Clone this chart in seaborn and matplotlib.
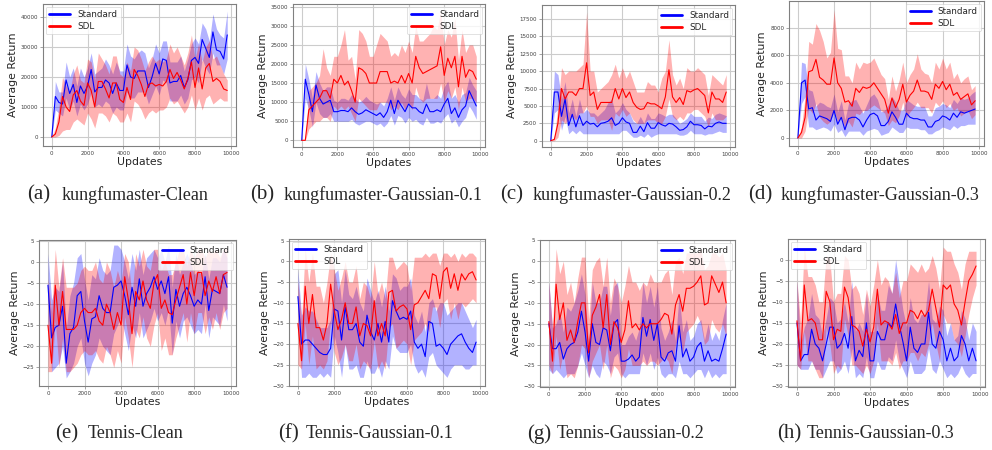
import numpy as np
import matplotlib
matplotlib.use("Agg")
import matplotlib.pyplot as plt
from matplotlib.ticker import MultipleLocator
import seaborn as sns

# x axis: one evaluation every 200 updates
step = 200

# --- kungfumaster (values in thousands) ---
a_std = [0, 13.5, 11.5, 11, 19, 14.5, 17.5, 11.5, 17, 14.5, 17, 22.5, 15, 16.5, 16.5, 19, 18, 14.5, 18, 15.5,
         15.5, 24, 20, 19.5, 22, 22, 22, 16.5, 20, 24.5, 21, 26, 25.5, 18, 18.5, 18.5, 20.5, 16.5, 19, 25.5,
         26.5, 24.5, 32.5, 29.5, 26.5, 35, 29, 28.5, 26, 34]
a_std_lo = [0, 9, 8, 7, 13, 9, 12, 7, 11, 9, 11, 15, 10, 11, 10, 12, 11, 8, 10, 9, 9, 15, 13, 13, 15, 15, 15, 11,
            14, 17, 14, 19, 18, 12, 12, 12, 14, 11, 13, 19, 20, 18, 26, 23, 21, 28, 24, 24, 21, 26]
a_std_hi = [0, 18.5, 15, 15, 25, 20, 23, 17, 23, 20, 23, 28, 21, 22, 23, 26, 24, 21, 25, 22, 22, 31, 27, 26, 28,
            29, 28, 23, 26, 31, 28, 32, 32, 25, 25, 25, 27, 22, 26, 31, 33, 31, 38, 36, 32, 41, 36, 34, 33, 42]
a_sdl = [0, 1, 5, 13.5, 10, 8.5, 14, 15.5, 12, 10.5, 18, 15.5, 10, 18.5, 18.5, 16, 13, 18, 18, 12.5, 11.5, 16.5,
         12.5, 22.5, 20.5, 17.5, 13.5, 17.5, 18, 17, 17.5, 17, 18.5, 22.5, 19.5, 21.5, 19, 16, 19.5, 25, 16.5,
         23, 16, 23, 24.5, 18.5, 19.5, 18.5, 16, 15.5]
a_sdl_lo = [0, 0, 0.5, 2, 2.5, 2.5, 5, 6, 5, 4, 8, 6, 3, 8, 8, 7, 5, 8, 7, 5, 5, 8, 5, 12, 11, 9, 6, 8, 9, 8, 9,
            9, 10, 13, 11, 12, 10, 8, 10, 14, 9, 13, 9, 13, 14, 11, 12, 13, 12, 12]
a_sdl_hi = [0, 3, 10, 20, 17, 15, 21, 24, 19, 18, 26, 25, 19, 28, 26, 24, 21, 27, 27, 21, 20, 25, 22, 30, 29, 26,
            22, 25, 27, 25, 26, 25, 26, 31, 28, 30, 27, 24, 28, 34, 26, 31, 25, 30, 32, 26, 27, 24, 21, 19]

b_std = [0, 16, 12, 7.5, 14.5, 11, 9.5, 10, 10.5, 7.5, 7.5, 7.8, 7.8, 7.5, 8.5, 7.5, 6.8, 7.2, 8, 7.5, 7, 6.5,
         7.2, 6, 7.5, 10.5, 7, 10.5, 9, 7.5, 9.5, 8.5, 8.5, 7.5, 7, 9.5, 7.5, 7.5, 8, 7.5, 9.5, 11, 7, 8.5, 6,
         8, 9, 13, 11, 9]
b_std_lo = [0, 11, 8, 3.5, 10, 7, 6, 6, 7, 5, 5, 5, 5, 5, 5.5, 4.5, 4, 4.5, 5, 5, 4.5, 4, 4.5, 3.5, 4.5, 6.5, 4,
            6.5, 6, 4.5, 6, 5, 5.5, 4.5, 4, 6, 4.5, 4.5, 5, 4.5, 6, 7, 4.5, 5.5, 3.5, 5, 6, 9, 7.5, 5.5]
b_std_hi = [0, 20, 16, 11, 18, 15, 13, 14, 14, 10.5, 10, 11, 11, 10.5, 12, 11, 10, 10.5, 11.5, 10.5, 10, 9.5, 10,
            9, 11, 14, 10.5, 14, 12, 11, 13.5, 12, 12, 11, 10.5, 15, 11, 11, 12, 11, 14, 15.5, 11, 12, 10, 12,
            12.5, 16.5, 14.5, 13]
b_sdl = [0, 0, 8, 9, 10, 11, 13, 13, 11, 16, 15, 17, 14.5, 15.5, 13, 10, 19, 18.5, 17.5, 15, 15, 15, 18, 18, 18,
         15, 15.5, 15, 17, 15, 17.5, 15, 22, 19, 17.5, 18, 18.5, 19, 19.5, 24.5, 17, 21.5, 19, 22, 14, 22, 16.5,
         18.5, 18, 16]
b_sdl_lo = [0, 0, 3, 4, 5, 5, 6, 6, 5, 9, 8, 9, 8, 9, 7, 5, 11, 10, 9, 8, 8, 8, 10, 10, 10, 8, 9, 8, 10, 8, 10, 8,
            14, 11, 10, 11, 11, 11, 11, 15, 10, 13, 11, 14, 8, 14, 10, 11, 11, 10]
b_sdl_hi = [0, 0, 13, 14, 15, 17, 24, 19, 17, 22, 22, 25, 29, 21, 22, 16, 29, 28, 26, 22, 22, 25, 28, 27, 26, 22,
            23, 22, 25, 23, 26, 23, 30, 26, 26, 27, 28, 30, 29, 34, 25, 29, 27, 32, 21, 29, 23, 25, 25, 22]

c_std = [0, 7, 7, 3.5, 6, 2.2, 3.8, 2, 3.6, 2.2, 2.8, 2.4, 2.5, 2, 2.5, 2.6, 2.8, 3.3, 2.2, 2.5, 3.3, 2.7, 2.5,
         1.2, 1.2, 2.1, 1.3, 2.6, 1.8, 1.8, 2.6, 2.3, 2.1, 2.5, 2.4, 2, 1.5, 1.6, 2, 2.8, 2.3, 2.3, 2.2, 1.7, 2.1,
         2, 2.5, 2.7, 2.5, 2.5]
c_std_lo = [0, 4, 4.5, 1.5, 3.5, 1, 1.5, 1, 1.5, 1, 1, 1, 1, 1, 1, 1, 1, 1, 1, 1, 1.5, 1.5, 1, 0.5, 0.5, 0.8, 0.5,
            1, 0.5, 0.8, 1, 1, 1, 1, 1, 1, 0.8, 0.8, 1, 1.5, 1, 1, 1, 0.8, 1, 1, 1.2, 1.4, 1.2, 1.2]
c_std_hi = [0, 10, 9.5, 6, 8.5, 4, 6, 3.5, 6, 4, 4.5, 4, 4, 3.5, 4, 4.5, 5.5, 6, 4, 4.5, 5.5, 4.5, 4, 2.8, 2.5,
            3.5, 2.5, 4, 3.2, 3.2, 4, 3.8, 3.5, 3.8, 3.8, 3.2, 2.5, 2.8, 3.2, 4, 3.5, 3.5, 3.5, 2.8, 3.4, 3.2, 3.8,
            4, 3.8, 3.6]
c_sdl = [0, 0.2, 2.5, 7.5, 6, 7, 7, 6.5, 7.5, 7.5, 11.2, 6.5, 7, 4.5, 5.5, 5.5, 5.5, 5.5, 7.5, 6, 7.5, 6.2, 7,
         5.5, 4.8, 4.5, 4.6, 5.5, 5.3, 5.3, 5, 4.6, 6.3, 10.2, 6.3, 5.5, 6.2, 5.2, 7.2, 7, 7.3, 7.5, 7, 6.5, 4,
         7, 6, 6, 5.5, 7]
c_sdl_lo = [0, 0, 0.5, 3, 2.5, 3, 3.5, 3, 4, 4, 5, 3.5, 3.5, 2.5, 3, 3, 3, 1.5, 4, 3.5, 4.5, 3.5, 4, 3, 2.5, 2.5,
            2.5, 3, 3, 3, 2.5, 2.5, 3.5, 6, 3.5, 3, 3.5, 3, 4, 4, 4.5, 4.5, 4, 3.5, 2, 4, 3, 3, 3, 3.5]
c_sdl_hi = [0, 0.5, 5, 10.5, 9.5, 10, 10, 10, 10.5, 11, 18.5, 10, 10, 7, 7.5, 8, 8.5, 9.5, 11, 9, 10.5, 9, 10,
            8.5, 7, 7, 7, 8.5, 8, 8, 7, 9, 10, 14.5, 9.5, 8, 9, 7.5, 10.5, 10, 10, 10.5, 10, 9.5, 6.5, 9.5, 9,
            8.5, 8, 9.5]

d_std = [0, 4, 4.2, 2.1, 2.2, 1.3, 1.6, 1.5, 1.4, 1.2, 2, 1, 1.5, 0.6, 1.4, 1.5, 1.5, 1.3, 0.8, 1.3, 1.7, 1.8,
         1.6, 0.9, 0.9, 1.2, 1.9, 1.5, 1, 1, 1.8, 1.5, 1.4, 1.4, 1.3, 1.3, 0.8, 0.8, 1.2, 1.3, 1.6, 1.5, 1.3,
         1.8, 1.5, 1.9, 1.8, 1.9, 2, 2.1]
d_std_lo = [0, 2.5, 3, 0.8, 0.8, 0.6, 0.7, 0.8, 0.7, 0.5, 1, 0.4, 0.6, 0.1, 0.5, 0.5, 0.5, 0.5, 0.2, 0.5, 0.6,
            0.7, 0.6, 0.2, 0.3, 0.4, 0.8, 0.6, 0.4, 0.4, 0.8, 0.7, 0.7, 0.7, 0.6, 0.6, 0.3, 0.3, 0.5, 0.6, 0.8,
            0.7, 0.6, 0.9, 0.7, 0.9, 0.9, 1, 1, 1]
d_std_hi = [0, 5.5, 5.4, 3.5, 3.4, 2.3, 2.6, 2.5, 2.3, 2.2, 3.2, 1.9, 2.7, 1.3, 2.5, 2.7, 2.8, 2.3, 1.8, 2.4, 3,
            3.2, 2.8, 1.9, 2, 2.4, 3, 2.6, 2, 2, 2.8, 2.6, 2.4, 2.3, 2.3, 2.3, 1.6, 1.6, 2.2, 2.3, 2.5, 2.4, 2.2,
            2.8, 2.5, 2.9, 2.8, 2.9, 3.2, 3.4]
d_sdl = [0, 0.4, 1.5, 4.8, 4.9, 5.7, 4.4, 4.2, 3.9, 3.9, 5.8, 4, 3.6, 2.6, 2.7, 2.3, 3.6, 3.3, 3.7, 3.6, 3.7, 4,
         3.6, 3.2, 2.8, 1.8, 2.9, 2.2, 2.8, 3.9, 2.6, 3.1, 3.4, 4.2, 3.4, 3.4, 3.3, 2.8, 3.9, 3.6, 4.1, 3.5, 3.9,
         3.1, 3.3, 2.8, 3, 3.2, 2.4, 2.7]
d_sdl_lo = [0, 0, 0.5, 2.2, 1.8, 2.5, 1.5, 1.2, 1, 1.2, 2, 1.2, 1.5, 0.8, 1.2, 0.8, 1.8, 1.7, 2, 2, 2.2, 2.4, 2.2,
            2, 1.8, 0.9, 1.3, 1.1, 1.6, 2.6, 1.5, 1.9, 2.2, 2.6, 2.2, 2.2, 2.2, 1.8, 2.6, 2.3, 2.7, 2.2, 2.5, 2,
            2.2, 1.6, 1.8, 2, 1.4, 1.7]
d_sdl_hi = [0, 0.8, 3, 7, 6.8, 8.3, 7.8, 7, 5.8, 6.2, 9.3, 6.5, 6.4, 4.5, 4.5, 4, 5.5, 5, 5.5, 5.4, 5.5, 5.8, 5.2,
            4.6, 4.3, 2.8, 4.5, 3.4, 4.2, 5.5, 4, 4.6, 5, 6.1, 5, 4.7, 4.6, 4, 5.5, 5, 5.8, 5, 5.5, 4.3, 4.7, 4,
            4.3, 4.5, 3.5, 3.8]

# --- Tennis ---
e_std = [-5.5, -18, -15.5, -15, -10.5, -24, -17, -15.5, -8, -7, -14, -19, -13.5, -13, -8, -11, -12, -12, -6,
         -5.5, -4.5, -8, -12.5, -6, -10.5, -4, -10.5, -7.5, -6, -3.5, -6.5, -4.5, -7.5, -3.5, -14.5, -6.5, -10.5,
         -7.5, -6, -8, -10.5, -9, -10, -3.5, -11.5, -6.5, -7, -7.5, -3, -6]
e_std_lo = [-14, -26, -25, -24, -20, -27.5, -26, -24, -20, -18, -24, -27, -24, -22, -18, -20, -21, -22, -17, -15,
            -13, -17, -21, -15, -18, -12, -18, -16, -14, -11, -14, -12, -15, -11, -22, -14, -18, -14, -13, -15,
            -17, -16, -17, -10, -18, -13, -14, -15, -10, -14]
e_std_hi = [2, -9, -6, -7, 0, -16, -8, -5, 1, 2, -4, -9, -3, -4, 1, -2, -3, -2, 4, 4, 3, 0, -4, 2, -2, 3, -3, 1,
            2, 3, 1, 3, 0, 4, -6, 2, -3, 0, 2, 0, -3, -2, -3, 2, -4, 1, 1, 0, 3, 1]
e_sdl = [-15, -24, -5.5, -15, -7, -16, -16, -16, -15, -12, -11, -12, -12, -11, -14, -15, -10, -12, -16, -12, -15,
         -3.5, -9, -17, -7, -9, -4.5, -9, -11, -5, -3, -11, -9, -12, -12.5, -9, -6, -3, -10, -2.5, -8, -2.5,
         -2.5, -8, -4.5, -7, -3.5, -7.5, -3, -2.5]
e_sdl_lo = [-26, -26, -14, -25, -18, -26, -26, -25, -24, -22, -21, -22, -22, -21, -23, -24, -20, -22, -25, -21,
            -24, -13, -18, -25, -16, -18, -13, -18, -20, -15, -12, -21, -18, -22, -22, -18, -15, -12, -19, -12,
            -17, -12, -12, -17, -13, -16, -12, -16, -12, -11]
e_sdl_hi = [-4, -12, 3, -6, 1, -6, -6, -6, -5, -2, -1, -2, -2, 0, -4, -5, 0, -2, -6, -2, -5, 2, 0, -8, 2, -1, 3,
            -1, -2, 3, 3, -2, 0, -3, -3, 0, 3, 3, -1, 3, 1, 3, 3, 1, 3, 2, 3, 1, 3, 3]

f_std = [-8.5, -20, -19, -19, -20, -21, -22, -22.5, -22.5, -21, -11.5, -12, -19, -11, -16.5, -16.5, -15, -19.5,
         -20.5, -13, -17, -19, -15, -19.5, -14.5, -19.5, -9.5, -12, -14, -13.5, -14, -12, -19.5, -21, -20, -23,
         -14.5, -15, -20.5, -20, -21, -22.5, -20, -19, -18, -17.5, -19.5, -21, -22, -19.5]
f_std_lo = [-15, -28, -28, -27, -28, -28, -27, -28, -27, -28, -18, -22, -28, -20, -26, -26, -25, -28, -28, -24,
            -27, -27, -25, -28, -24, -26, -18, -21, -22, -22, -22, -20, -25, -27, -26, -28, -23, -22, -25, -26,
            -27, -28, -26, -25, -25, -25, -26, -26, -25, -25]
f_std_hi = [-2, -13, -11, -12, -12, -14, -16, -16, -16, -14, -3, -2, -10, -2, -8, -9, -6, -10, -12, -4, -7, -10,
            -7, -11, -6, -12, -3, -4, -7, -6, -6, -4, -13, -15, -12, -17, -10, -9, -12, -10, -10, -13, -12, -11,
            -10, -10, -12, -14, -16, -14]
f_sdl = [-15, -24, -6, -15, -8, -16, -16, -19, -15, -5.5, -12, -16.5, -14, -10, -15, -15, -11, -18, -15, -15.5,
         -18, -9.5, -18, -15, -18, -7.5, -7, -12, -11, -10.5, -11.5, -16.5, -10.5, -10, -8.5, -7, -9, -3, -3.5,
         -9, -2.5, -1.5, -6.5, -3, -7, -3, -4.5, -3, -2.5, -4.5]
f_sdl_lo = [-25, -26, -15, -25, -18, -26, -25, -26, -24, -14, -22, -25, -23, -20, -24, -24, -20, -26, -24, -25,
            -26, -19, -26, -24, -26, -16, -15, -21, -20, -19, -20, -25, -19, -18, -17, -15, -17, -11, -11, -16,
            -10, -9, -14, -10, -14, -10, -11, -10, -9, -10]
f_sdl_hi = [-5, -14, 3, -5, 2, -6, -6, -10, -5, 2, -2, -7, -4, 0, -5, -5, -1, -9, -5, -6, -9, 0, -8, -5, -9, 1, 1,
            -2, -1, 0, -1, -7, 1, 1, 1, 2, 1, 2, 2, -1, 2, 2, 1, 2, 0, 2, 1, 2, 2, 1]

g_std = [-15, -21, -21, -19.5, -23.5, -21, -20, -19.5, -17, -12, -17, -24, -15, -19.5, -20, -16, -16.5, -21.5,
         -15, -14, -24, -24, -23.5, -22.5, -24, -23, -13.5, -18, -14, -19, -15, -23, -24, -22, -21.5, -24, -15.5,
         -23, -21, -24, -23, -20.5, -19.5, -24, -21.5, -24, -23.5, -24, -21, -17.5]
g_std_lo = [-26, -27, -26, -27, -28, -27, -27, -27, -25, -22, -25, -28, -25, -27, -28, -24, -25, -27, -23, -22,
            -27, -28, -27, -27, -27, -27, -22, -25, -22, -26, -23, -27, -28, -27, -27, -28, -24, -27, -27, -28,
            -27, -26, -26, -28, -26, -28, -27, -28, -27, -27]
g_std_hi = [-5, -16, -15, -12, -17, -11, -12, -10, -7, -3, -8, -20, -5, -10, -10, -6, -6, -13, -6, -5, -20, -20,
            -18, -17, -19, -16, -5, -10, -6, -11, -6, -16, -19, -17, -14, -19, -8, -17, -14, -19, -18, -15, -14,
            -19, -15, -19, -17, -19, -14, -10]
g_sdl = [-14.5, -24, -5.5, -14, -10, -19, -16.5, -19.5, -14.5, -10, -10, -22, -13, -11, -8, -16, -8, -20, -14.5,
         -16, -19.5, -16.5, -9.5, -16, -15, -16.5, -15, -16, -15, -15, -15, -14, -12.5, -13, -17.5, -10.5, -8,
         -12, -6.5, -6.5, -6, -5, -3.5, -10.5, -10, -3.5, -5.5, -7.5, -5, -10]
g_sdl_lo = [-25, -27, -18, -26, -22, -28, -27, -28, -25, -20, -21, -28, -24, -22, -20, -26, -20, -28, -25, -26,
            -28, -26, -21, -25, -25, -25, -24, -25, -24, -24, -25, -24, -23, -24, -27, -20, -18, -22, -17, -16,
            -15, -13, -15, -20, -19, -14, -16, -17, -15, -18]
g_sdl_hi = [-5, -16, 3, -3, 0, -8, -5, -10, -4, 1, 1, -14, -2, 0, 1, -6, 1, -10, -4, -6, -10, -6, -1, -5, -5, -7,
            -5, -6, -3, -5, -5, -5, -3, -2, -8, 0, 1, -3, 2, 2, 2, 2, 3, -2, -1, 2, 2, 1, 2, -2]

h_std = [-15, -24, -22.5, -22.5, -16.5, -20, -21, -24, -20, -16, -16, -21, -20, -17.5, -21, -13.5, -24, -21.5,
         -23, -15, -24, -24, -17, -19, -19, -15, -16, -10.5, -15.5, -19.5, -24, -16, -21, -22, -20, -20, -12.5,
         -20, -21, -17, -19, -24, -21, -24, -23, -18, -20, -24, -21, -24]
h_std_lo = [-25, -26, -26, -26, -24, -26, -26, -28, -26, -24, -24, -27, -26, -24, -27, -21, -28, -27, -28, -23,
            -28, -28, -24, -26, -26, -23, -24, -19, -24, -26, -28, -24, -27, -27, -27, -26, -21, -26, -27, -24,
            -26, -28, -27, -28, -27, -25, -27, -28, -27, -27]
h_std_hi = [-5, -20, -16, -14, -8, -13, -14, -18, -14, -9, -10, -15, -14, -10, -15, -5, -17, -15, -17, -8, -17,
            -17, -8, -12, -12, -6, -8, 0, -6, -12, -16, -9, -14, -15, -13, -13, -5, -14, -15, -11, -12, -18, -15,
            -19, -18, -12, -14, -19, -15, -17]
h_sdl = [-14.5, -24, -6, -14.5, -14, -15, -19, -19, -7.5, -10, -19, -16.5, -17, -6.5, -9, -15.5, -16, -17, -20.5,
         -16.5, -19.5, -16, -7, -15.5, -14.5, -15, -16.5, -13, -17.5, -15, -15, -12, -12.5, -14, -12, -13.5, -12,
         -7, -11.5, -16, -6, -7, -6, -10.5, -12, -15.5, -10, -5, -3.5, -1.5]
h_sdl_lo = [-25, -26, -17, -24, -24, -26, -28, -28, -16, -20, -27, -25, -26, -14, -18, -25, -25, -26, -27, -25,
            -27, -24, -15, -24, -24, -24, -25, -22, -26, -24, -24, -22, -22, -24, -22, -23, -20, -15, -20, -24,
            -13, -15, -15, -19, -20, -23, -18, -13, -9, -6]
h_sdl_hi = [-5, -15, 3, -4, -4, -6, -10, -10, 1, 0, -10, -8, -8, 1, 0, -7, -6, -8, -13, -7, -11, -6, 0, -6, -4,
            -5, -8, -3, -9, -5, -5, -1, -2, -3, -1, -3, -2, 1, -2, -7, 3, 2, 2, -1, -3, -7, -1, 2, 2, 2]

letters = ["(a)", "(b)", "(c)", "(d)", "(e)", "(f)", "(g)", "(h)"]
names = ["kungfumaster-Clean", "kungfumaster-Gaussian-0.1", "kungfumaster-Gaussian-0.2",
         "kungfumaster-Gaussian-0.3", "Tennis-Clean", "Tennis-Gaussian-0.1", "Tennis-Gaussian-0.2",
         "Tennis-Gaussian-0.3"]

series = [
    (a_std, a_std_lo, a_std_hi, a_sdl, a_sdl_lo, a_sdl_hi),
    (b_std, b_std_lo, b_std_hi, b_sdl, b_sdl_lo, b_sdl_hi),
    (c_std, c_std_lo, c_std_hi, c_sdl, c_sdl_lo, c_sdl_hi),
    (d_std, d_std_lo, d_std_hi, d_sdl, d_sdl_lo, d_sdl_hi),
    (e_std, e_std_lo, e_std_hi, e_sdl, e_sdl_lo, e_sdl_hi),
    (f_std, f_std_lo, f_std_hi, f_sdl, f_sdl_lo, f_sdl_hi),
    (g_std, g_std_lo, g_std_hi, g_sdl, g_sdl_lo, g_sdl_hi),
    (h_std, h_std_lo, h_std_hi, h_sdl, h_sdl_lo, h_sdl_hi),
]

# layout: axes box in pixels (left, top, right, bottom), y limits, tick step, value scale, legend loc
layout = [
    ((43, 4, 236, 146), (-3000, 44300), 10000, 1000, "upper left"),
    ((293, 4, 485, 147), (-1750, 35700), 5000, 1000, "upper right"),
    ((542, 5, 735, 147), (-900, 19500), 2500, 1000, "upper right"),
    ((789, 1, 984, 146), (-580, 9930), 2000, 1000, "upper right"),
    ((39, 240, 236, 386), (-29.4, 5.2), 5, 1, "upper right"),
    ((289, 239, 485, 386), (-30.1, 5.4), 5, 1, "upper left"),
    ((540, 240, 735, 387), (-30.2, 5.1), 5, 1, "upper right"),
    ((788, 239, 985, 387), (-30.2, 4.9), 5, 1, "upper left"),
]
# caption positions: x of "(a)", x of name, y centre
captions = [(27, 62, 195), (250, 284, 195), (500, 533, 195), (748, 781, 195),
            (55, 88, 434), (278, 306, 434), (527, 557, 434), (777, 807, 434)]

sns.set_style("whitegrid", {"axes.edgecolor": "0.5", "grid.color": "0.8",
                            "xtick.bottom": True, "ytick.left": True})
plt.rcParams["font.family"] = ["DejaVu Sans"]

W, H = 992, 450
fig = plt.figure(figsize=(W / 100, H / 100), dpi=100)

for i, (vals, lay, cap) in enumerate(zip(series, layout, captions)):
    std, std_lo, std_hi, sdl, sdl_lo, sdl_hi = [np.array(v, dtype=float) for v in vals]
    (l, t, r, b), ylim, ystep, scale, loc = lay
    ax = fig.add_axes([l / W, 1 - b / H, (r - l) / W, (b - t) / H])

    x_std = np.arange(len(std)) * step
    x_sdl = np.arange(len(sdl)) * step
    ax.fill_between(np.arange(len(std_lo)) * step, std_lo * scale, std_hi * scale,
                    color="blue", alpha=0.3, lw=0)
    ax.fill_between(np.arange(len(sdl_lo)) * step, sdl_lo * scale, sdl_hi * scale,
                    color="red", alpha=0.3, lw=0)
    sns.lineplot(x=x_std, y=std * scale, color="blue", lw=0.8, label="Standard", ax=ax)
    sns.lineplot(x=x_sdl, y=sdl * scale, color="red", lw=0.8, label="SDL", ax=ax)

    ax.set_xlim(-490, 10290)
    ax.set_ylim(*ylim)
    ax.xaxis.set_major_locator(MultipleLocator(2000))
    ax.yaxis.set_major_locator(MultipleLocator(ystep))
    ax.tick_params(labelsize=4, length=2, width=0.5, color="0.5", pad=1.5, labelcolor="0.25")
    ax.grid(True, lw=0.8)
    for sp in ax.spines.values():
        sp.set_linewidth(0.8)
    ax.set_xlabel("Updates", fontsize=7.8, labelpad=1)
    ax.set_ylabel("Average Return", fontsize=7.8, labelpad=2)

    leg = ax.legend(loc=loc, fontsize=6.3, handlelength=2.4, frameon=True, borderpad=0.4,
                    labelspacing=0.3, borderaxespad=0.3)
    leg.get_frame().set_linewidth(0.5)
    for ln in leg.get_lines():
        ln.set_linewidth(2)

    px, nx, cy = cap
    fig.text(px / W, 1 - cy / H, letters[i], fontsize=15, family="Liberation Serif", va="center")
    fig.text(nx / W, 1 - cy / H, names[i], fontsize=13, family="Liberation Serif", va="center")

fig.savefig("out.png", dpi=100)
